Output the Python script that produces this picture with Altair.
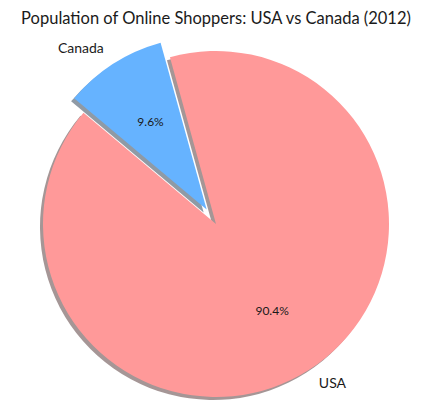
import math
import altair as alt
import pandas as pd

# ---- data ----
countries = ["Canada", "USA"]          # clockwise order from the start angle
shares = [9.6, 90.4]                   # percent of online shoppers
pct_text = ["9.6%", "90.4%"]
slice_colors = ["#66b3ff", "#ff9999"]
explode = [0.1, 0.0]
label_align = ["right", "left"]

TITLE = "Population of Online Shoppers: USA vs Canada (2012)"
FONT = "Lato"
R = 173
SHADOW_DX, SHADOW_DY = -3, 3
# matplotlib startangle=140 (counter-clockwise from 3 o'clock) -> Vega angle (clockwise from 12 o'clock)
START = math.radians(90 - 140) + 2 * math.pi
total = sum(shares)

df = pd.DataFrame({
    "country": countries,
    "share": shares,
    "order": list(range(len(countries))),
    "pct": pct_text,
})

theta_scale = alt.Scale(domain=[0, total], range=[START, START + 2 * math.pi])

base = (
    alt.Chart(df)
    .transform_window(cum="sum(share)", sort=[alt.SortField("order")], frame=[None, 0])
    .transform_calculate(start="datum.cum - datum.share", mid="datum.cum - datum.share / 2")
)


def shade(hex_color):
    h = hex_color.lstrip("#")
    r, g, b = (int(h[i:i + 2], 16) for i in (0, 2, 4))
    return "#%02x%02x%02x" % (round(r * 0.3), round(g * 0.3), round(b * 0.3))


shadows, wedges, labels, pcts = [], [], [], []
cum = 0.0
for c, s, col, ex, al in zip(countries, shares, slice_colors, explode, label_align):
    mid_angle = START + 2 * math.pi * (cum + s / 2) / total
    cum += s
    dx = ex * R * math.sin(mid_angle)
    dy = -ex * R * math.cos(mid_angle)
    sel = base.transform_filter(alt.datum.country == c)
    shadows.append(
        sel.mark_arc(radius=R, color=shade(col), opacity=0.5,
                     xOffset=dx + SHADOW_DX, yOffset=dy + SHADOW_DY)
        .encode(theta=alt.Theta("start:Q", scale=theta_scale), theta2="cum:Q")
    )
    wedges.append(
        sel.mark_arc(radius=R, color=col, xOffset=dx, yOffset=dy)
        .encode(theta=alt.Theta("start:Q", scale=theta_scale), theta2="cum:Q")
    )
    labels.append(
        sel.mark_text(radius=1.1 * R, align=al, baseline="middle", font=FONT,
                      fontSize=14, color="#1a1a1a", xOffset=dx, yOffset=dy)
        .encode(theta=alt.Theta("mid:Q", scale=theta_scale), text="country:N")
    )
    pcts.append(
        sel.mark_text(radius=0.6 * R, align="center", baseline="middle", font=FONT,
                      fontSize=12, color="#1a1a1a", xOffset=dx, yOffset=dy)
        .encode(theta=alt.Theta("mid:Q", scale=theta_scale), text="pct:N")
    )

chart = (
    alt.layer(*shadows, *wedges, *labels, *pcts)
    .properties(
        width=400,
        height=380,
        autosize="none",
        padding={"left": 8, "top": 26, "right": 7, "bottom": 0},
        title=alt.TitleParams(TITLE, font=FONT, fontSize=16.5, fontWeight="normal",
                              color="#1a1a1a", anchor="middle", offset=7),
    )
    .configure_view(stroke=None)
    .configure(background="white")
)

chart.save("out.html", embed_options={"renderer": "svg", "actions": False})
